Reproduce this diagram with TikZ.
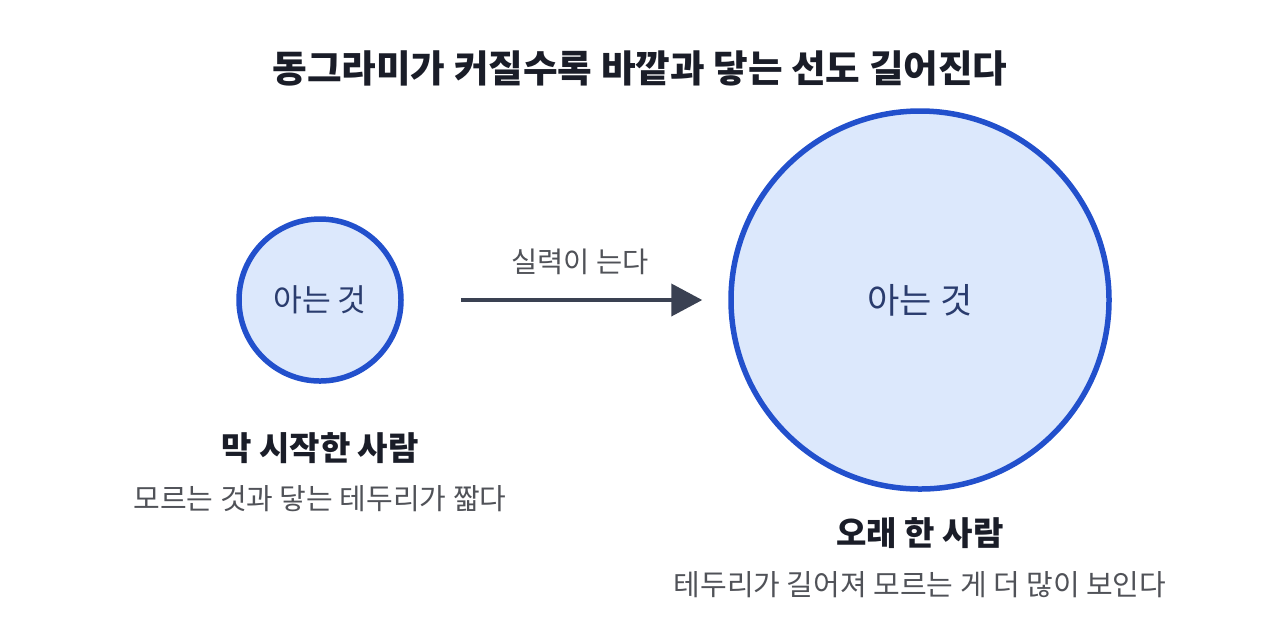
\documentclass[tikz,border=0pt]{standalone}
\usepackage{fontspec}
\newfontfamily\kr{Noto Sans CJK KR}
\usetikzlibrary{arrows.meta, positioning}
\definecolor{ringblue}{RGB}{34,80,204}
\definecolor{fillblue}{RGB}{220,232,252}
\definecolor{inkblue}{RGB}{42,60,110}
\definecolor{darkink}{RGB}{26,29,40}
\definecolor{grayink}{RGB}{80,82,88}
\definecolor{arrowgray}{RGB}{58,65,82}
\tikzstyle{known} = [circle, draw=ringblue, fill=fillblue, line width=0.055cm, inner sep=0pt, text=inkblue]
\tikzstyle{who} = [font=\kr\bfseries\fontsize{9.4}{11}\selectfont, text=darkink, inner sep=0pt]
\tikzstyle{note} = [font=\kr\fontsize{8.25}{10}\selectfont, text=grayink, inner sep=0pt]
\tikzstyle{arrow} = [-{Triangle[length=0.31cm, width=0.32cm]}, line width=0.04cm, arrowgray]

\begin{document}
\begin{tikzpicture}
  \useasboundingbox (0,0) rectangle (12.8,-6.4);
  \node[font=\kr\bfseries\fontsize{10.7}{13}\selectfont, text=darkink] (title) at (6.4,-0.68) {동그라미가 커질수록 바깥과 닿는 선도 길어진다};

  % left: small circle
  \node[known, minimum size=1.62cm, font=\kr\fontsize{8.9}{11}\selectfont] (small) at (3.2,-3.0) {아는 것};
  \node[who, below=0.48cm of small] (newwho) {막 시작한 사람};
  \node[note, below=0.21cm of newwho] (newnote) {모르는 것과 닿는 테두리가 짧다};

  % right: big circle
  \node[known, minimum size=3.78cm, font=\kr\fontsize{10}{12}\selectfont] (big) at (9.2,-3.0) {아는 것};
  \node[who, below=0.25cm of big] (oldwho) {오래 한 사람};
  \node[note, below=0.22cm of oldwho] (oldnote) {테두리가 길어져 모르는 게 더 많이 보인다};

  \draw[arrow, shorten <=0.57cm, shorten >=0.26cm] (small) -- node[midway, above=0.23cm, xshift=0.14cm, note, font=\kr\fontsize{8.1}{10}\selectfont] (grow) {실력이 는다} (big);
\end{tikzpicture}
\end{document}
